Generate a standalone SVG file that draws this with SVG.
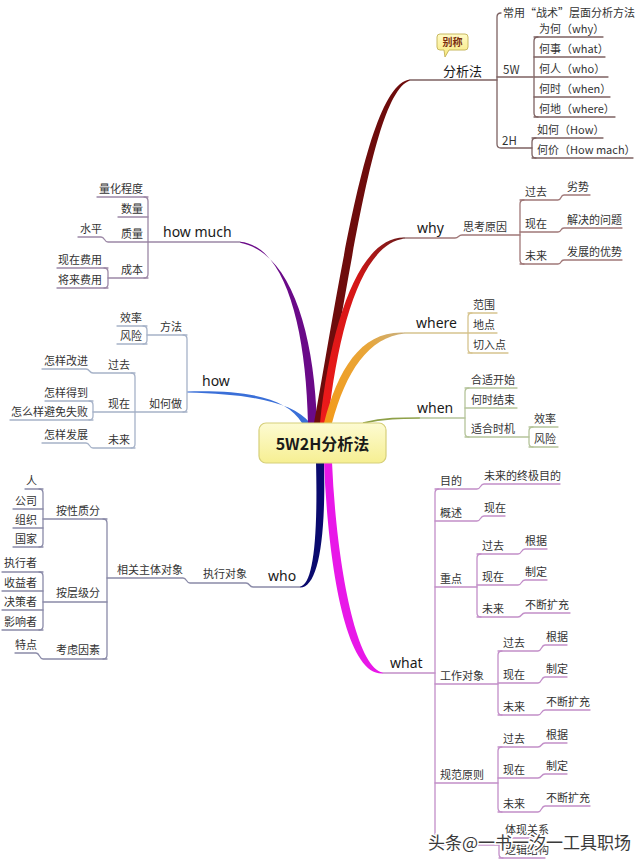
<svg xmlns="http://www.w3.org/2000/svg" width="640" height="863" viewBox="0 0 640 863">
<defs>
<style>
.c{fill:none;stroke-width:1.3;stroke-linecap:round;stroke-linejoin:round}
.fx{stroke:#7d6262}
.wy{stroke:#a07878}
.wh{stroke:#d6c48e}
.wn{stroke:#b5c49a}
.wt{stroke:#c28ec8}
.wo{stroke:#8a8aa8}
.hw{stroke:#a6b2c8}
.hm{stroke:#9c88a6}
text{font-family:"Noto Sans CJK SC","Noto Sans",sans-serif;font-size:11px;fill:#333}
.m{font-family:"Noto Sans","Noto Sans CJK SC",sans-serif;font-size:14px;fill:#1a1a1a}
.e{text-anchor:end}
</style>
<linearGradient id="gWhy" x1="0" y1="1" x2="1" y2="0">
<stop offset="0" stop-color="#EE1B1B"/><stop offset="0.6" stop-color="#D41616"/><stop offset="1" stop-color="#6A1A1A"/>
</linearGradient>
<linearGradient id="gWhere" x1="0" y1="1" x2="1" y2="0">
<stop offset="0" stop-color="#F39A1A"/><stop offset="0.7" stop-color="#E8A63A"/><stop offset="1" stop-color="#C8B080"/>
</linearGradient>
<linearGradient id="gNode" x1="0" y1="0" x2="0" y2="1">
<stop offset="0" stop-color="#FDFBD2"/><stop offset="1" stop-color="#F6EF92"/>
</linearGradient>
<linearGradient id="gTag" x1="0" y1="0" x2="0" y2="1">
<stop offset="0" stop-color="#FFFBC8"/><stop offset="1" stop-color="#F7E77A"/>
</linearGradient>
</defs>
<rect width="640" height="863" fill="#ffffff"/>

<g id="connectors">
<!-- main tapered branches -->
<path d="M302,423 C287,398 250,390 187,391.5 L187,392.5 C250,394 293,402 310,423 Z" fill="#3A6FD8"/>
<path d="M308,423 C306,330 286,246 240,241.8 L240,242.8 C290,252 314,330 317,423 Z" fill="#6A0A88"/>
<path d="M314,423 C340,280 367,84 410,79.5 L410,80.5 C373,92 350,280 322,423 Z" fill="#6E0C0C"/>
<path d="M320,423 C331,320 360,236 405,237.5 L405,238.5 C364,243 339,320 328,423 Z" fill="url(#gWhy)"/>
<path d="M324,423 C338,368 362,330 405,332.5 L405,333.5 C368,337 346,372 332,423 Z" fill="url(#gWhere)"/>
<path d="M363,423 C385,418 400,418 420,418" fill="none" stroke="#8EA048" stroke-width="1.6"/>
<path d="M316,462 C318,540 313,585 300,586.5 L300,587.5 C318,588 326,540 324,462 Z" fill="#0A0A6E"/>
<path d="M324,462 C328,562 345,676 383,673.5 L383,672.5 C355,668 336,558 332,462 Z" fill="#E818E8"/>

<!-- 分析法 -->
<g class="c fx">
<path d="M410,80 H497"/>
<path d="M501,13 Q497,13 497,17 V144 Q497,148 501,148 H532"/>
<path d="M497,77 H533"/>
<path d="M538,37 Q534,37 534,41 V113 Q534,117 538,117"/>
<path d="M534,37 H603 M534,57 H605 M534,77 H608 M534,97 H610 M534,117 H615"/>
<path d="M536,138 Q532,138 532,142 V154 Q532,158 536,158"/>
<path d="M532,138 H603 M532,158 H633"/>
</g>
<!-- why -->
<g class="c wy">
<path d="M403,238 H455 C459,238 458,235 462,235 H520"/>
<path d="M524,200 Q520,200 520,204 V260 Q520,264 524,264"/>
<path d="M520,200 H558 C562,200 560,195 564,195 H590"/>
<path d="M520,232 H558 C562,232 560,228 564,228 H622"/>
<path d="M520,264 H558 C562,264 560,260 564,260 H622"/>
</g>
<!-- where -->
<g class="c wh">
<path d="M405,333 H468"/>
<path d="M472,313 Q468,313 468,317 V349 Q468,353 472,353"/>
<path d="M468,313 H497 M468,333 H497 M468,353 H508"/>
</g>
<!-- when -->
<g class="c wn">
<path d="M420,418 H465"/>
<path d="M469,388 Q465,388 465,392 V433 Q465,437 469,437"/>
<path d="M465,388 H517 M465,408 H517 M465,437 H529"/>
<path d="M533,427 Q529,427 529,431 V443 Q529,447 533,447"/>
<path d="M529,427 H558 M529,447 H558"/>
</g>
<!-- what -->
<g class="c wt">
<path d="M383,673 H435"/>
<path d="M439,489 Q435,489 435,493 V841 Q435,845 439,845 H499"/>
<path d="M435,489 H477 C481,489 480,484 484,484 H560"/>
<path d="M435,521 H477 C481,521 480,516 484,516 H505"/>
<path d="M435,587 H477"/>
<path d="M481,554 Q477,554 477,558 V613 Q477,617 481,617"/>
<path d="M477,554 H518 C522,554 521,549 525,549 H547"/>
<path d="M477,585 H518 C522,585 521,580 525,580 H547"/>
<path d="M477,617 H518 C522,617 521,613 525,613 H570"/>
<path d="M435,684 H498"/>
<path d="M502,651 Q498,651 498,655 V711 Q498,715 502,715"/>
<path d="M498,651 H538 C542,651 541,645 545,645 H567"/>
<path d="M498,683 H538 C542,683 541,677 545,677 H567"/>
<path d="M498,715 H538 C542,715 541,710 545,710 H590"/>
<path d="M435,783 H498"/>
<path d="M502,747 Q498,747 498,751 V808 Q498,812 502,812"/>
<path d="M498,747 H538 C542,747 541,743 545,743 H567"/>
<path d="M498,778 H538 C542,778 541,774 545,774 H567"/>
<path d="M498,812 H538 C542,812 541,806 545,806 H590"/>
<path d="M503,838 Q499,838 499,842 V854 Q499,858 503,858"/>
<path d="M499,838 H545 M499,858 H545"/>
</g>
<!-- who -->
<g class="c wo">
<path d="M300,587 H253 C249,587 250,583 246,583 H190 C186,583 187,578 183,578 H107"/>
<path d="M103,519 Q107,519 107,523 V655 Q107,659 103,659"/>
<path d="M107,519 H43"/>
<path d="M39,489 Q43,489 43,493 V543 Q43,547 39,547"/>
<path d="M43,489 H25 M43,509 H13 M43,528 H13 M43,547 H13"/>
<path d="M107,602 H43"/>
<path d="M39,572 Q43,572 43,576 V626 Q43,630 39,630"/>
<path d="M43,572 H2 M43,591 H2 M43,610 H2 M43,630 H2"/>
<path d="M107,659 H43 C39,659 40,653 36,653 H15"/>
</g>
<!-- how -->
<g class="c hw">
<path d="M183,335 Q187,335 187,339 V408 Q187,412 183,412"/>
<path d="M187,335 H147 M187,412 H135"/>
<path d="M143,326 Q147,326 147,330 V340 Q147,344 143,344"/>
<path d="M147,326 H117 M147,344 H117"/>
<path d="M131,373 Q135,373 135,377 V444 Q135,448 131,448"/>
<path d="M135,373 H93 C89,373 90,369 86,369 H42"/>
<path d="M135,412 H93"/>
<path d="M89,401 Q93,401 93,405 V416 Q93,420 89,420"/>
<path d="M93,401 H45 M93,420 H10"/>
<path d="M135,448 H93 C89,448 90,443 86,443 H42"/>
</g>
<!-- how much -->
<g class="c hm">
<path d="M240,242 H148"/>
<path d="M144,197 Q148,197 148,201 V274 Q148,278 144,278"/>
<path d="M148,197 H97 M148,217 H118"/>
<path d="M148,242 H108 C104,242 105,237 101,237 H78"/>
<path d="M148,278 H108"/>
<path d="M104,268 Q108,268 108,272 V284 Q108,288 104,288"/>
<path d="M108,268 H57 M108,288 H57"/>
</g>
</g>

<g id="center">
<rect x="259" y="423" width="127" height="40" rx="7" fill="url(#gNode)" stroke="#D6CF7A" stroke-width="1.2"/>
<text x="322.5" y="450" text-anchor="middle" style="font-size:16px;font-weight:bold;fill:#1a1a1a">5W2H分析法</text>
</g>

<g id="n-fenxifa">
<text x="443" y="76" class="m" style="font-size:13px">分析法</text>
<g id="n-biecheng">
<path d="M440,34 H465 Q468,34 468,37 V47 Q468,50 465,50 H449 L445,57 L444,50 H440 Q437,50 437,47 V37 Q437,34 440,34 Z" fill="url(#gTag)" stroke="#C8B860" stroke-width="1"/>
<text x="452.5" y="46" text-anchor="middle" style="font-size:10px;font-weight:bold;fill:#7A2E0E">别称</text>
</g>
<text x="503" y="17">常用“战术”层面分析方法</text>
<text x="503" y="74" style="font-size:11.5px">5W</text>
<text x="539" y="33">为何（why）</text>
<text x="539" y="53">何事（what）</text>
<text x="539" y="73">何人（who）</text>
<text x="539" y="93">何时（when）</text>
<text x="539" y="113">何地（where）</text>
<text x="502" y="145" style="font-size:11.5px">2H</text>
<text x="537" y="134">如何（How）</text>
<text x="537" y="154">何价（How mach）</text>
</g>

<g id="n-why">
<text x="417" y="233" class="m">why</text>
<text x="463" y="231">思考原因</text>
<text x="525" y="196">过去</text>
<text x="525" y="228">现在</text>
<text x="525" y="260">未来</text>
<text x="567" y="191">劣势</text>
<text x="567" y="224">解决的问题</text>
<text x="567" y="256">发展的优势</text>
</g>

<g id="n-where">
<text x="416" y="328" class="m">where</text>
<text x="473" y="309">范围</text>
<text x="473" y="329">地点</text>
<text x="473" y="349">切入点</text>
</g>

<g id="n-when">
<text x="417" y="413" class="m">when</text>
<text x="471" y="384">合适开始</text>
<text x="471" y="404">何时结束</text>
<text x="471" y="433">适合时机</text>
<text x="534" y="423">效率</text>
<text x="534" y="443">风险</text>
</g>

<g id="n-what">
<text x="390" y="668" class="m">what</text>
<text x="440" y="485">目的</text>
<text x="484" y="480">未来的终极目的</text>
<text x="440" y="517">概述</text>
<text x="484" y="512">现在</text>
<text x="440" y="583">重点</text>
<text x="482" y="550">过去</text>
<text x="482" y="581">现在</text>
<text x="482" y="613">未来</text>
<text x="525" y="545">根据</text>
<text x="525" y="576">制定</text>
<text x="525" y="609">不断扩充</text>
<text x="440" y="680">工作对象</text>
<text x="503" y="647">过去</text>
<text x="503" y="679">现在</text>
<text x="503" y="711">未来</text>
<text x="546" y="641">根据</text>
<text x="546" y="673">制定</text>
<text x="546" y="706">不断扩充</text>
<text x="440" y="779">规范原则</text>
<text x="503" y="743">过去</text>
<text x="503" y="774">现在</text>
<text x="503" y="808">未来</text>
<text x="546" y="739">根据</text>
<text x="546" y="770">制定</text>
<text x="546" y="802">不断扩充</text>
<text x="505" y="834">体现关系</text>
<text x="505" y="854">逻辑结构</text>
</g>

<g id="n-who">
<text x="268" y="581" class="m">who</text>
<text x="247" y="578" class="e">执行对象</text>
<text x="183" y="574" class="e">相关主体对象</text>
<text x="100" y="515" class="e">按性质分</text>
<text x="37" y="485" class="e">人</text>
<text x="37" y="505" class="e">公司</text>
<text x="37" y="524" class="e">组织</text>
<text x="37" y="543" class="e">国家</text>
<text x="100" y="597" class="e">按层级分</text>
<text x="37" y="567" class="e">执行者</text>
<text x="37" y="587" class="e">收益者</text>
<text x="37" y="606" class="e">决策者</text>
<text x="37" y="626" class="e">影响者</text>
<text x="100" y="654" class="e">考虑因素</text>
<text x="37" y="649" class="e">特点</text>
</g>

<g id="n-how">
<text x="202" y="386" class="m">how</text>
<text x="182" y="331" class="e">方法</text>
<text x="182" y="408" class="e">如何做</text>
<text x="142" y="322" class="e">效率</text>
<text x="142" y="340" class="e">风险</text>
<text x="130" y="369" class="e">过去</text>
<text x="130" y="408" class="e">现在</text>
<text x="130" y="444" class="e">未来</text>
<text x="88" y="365" class="e">怎样改进</text>
<text x="88" y="397" class="e">怎样得到</text>
<text x="88" y="416" class="e">怎么样避免失败</text>
<text x="88" y="439" class="e">怎样发展</text>
</g>

<g id="n-howmuch">
<text x="163" y="237" class="m">how much</text>
<text x="143" y="193" class="e">量化程度</text>
<text x="143" y="213" class="e">数量</text>
<text x="143" y="238" class="e">质量</text>
<text x="102" y="233" class="e">水平</text>
<text x="143" y="274" class="e">成本</text>
<text x="102" y="264" class="e">现在费用</text>
<text x="102" y="284" class="e">将来费用</text>
</g>

<g id="watermark">
<text x="428" y="849" style="font-size:17px;fill:#3a3a3a;stroke:#ffffff;stroke-width:3;paint-order:stroke">头条@一书一汐一工具职场</text>
</g>
</svg>
